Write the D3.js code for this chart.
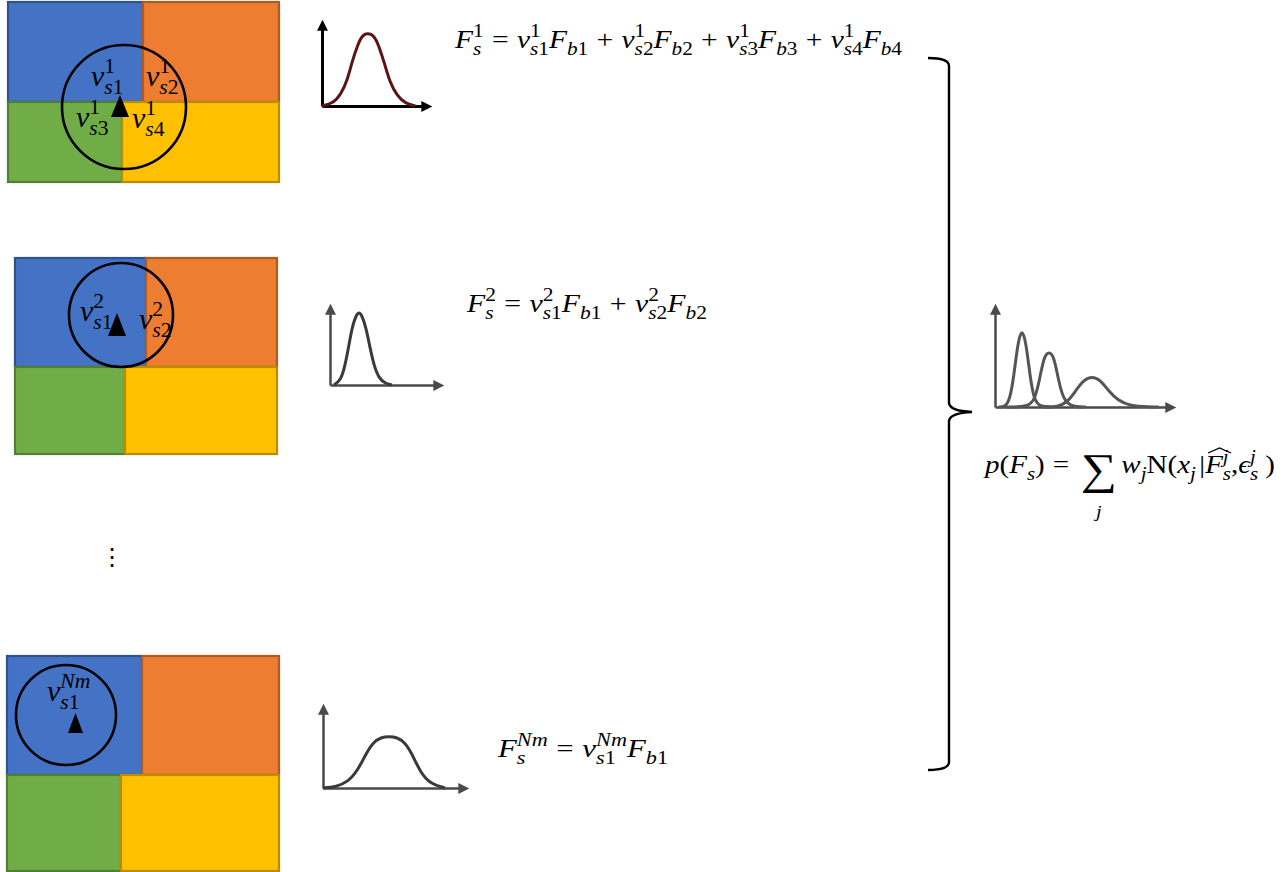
<!DOCTYPE html>
<html>
<head>
<meta charset="utf-8">
<script src="https://cdn.jsdelivr.net/npm/d3@7"></script>
<style>
  body { margin: 0; background: #fff; }
  svg text { font-family: 'Liberation Serif', 'DejaVu Serif', serif; fill: #000; }
</style>
</head>
<body>
<div id="chart"></div>
<script>
// ---- data ----
// bell curves: x in axis units (0-10 up to the arrow tip), y as share of axis height (0-1 up to the arrow tip)
const curve1X = [0, 1.0, 1.7, 2.3, 2.7, 3.2, 3.6, 4.1, 4.7, 5.1, 5.6, 6.1, 6.8, 7.5, 8.4];
const curve1Y = [0, .03, .13, .30, .50, .69, .80, .83, .80, .69, .50, .27, .11, .03, 0];
const curve2X = [0.35, 0.87, 1.22, 1.57, 1.91, 2.26, 2.52, 2.78, 3.13, 3.48, 3.83, 4.26, 4.78, 5.39];
const curve2Y = [0, .05, .18, .42, .69, .84, .88, .84, .69, .45, .23, .08, .02, 0];
const curve3X = [0, .82, 1.7, 2.38, 2.93, 3.4, 3.95, 4.49, 5.03, 5.58, 6.05, 6.6, 7.28, 8.3];
const curve3Y = [0, .01, .07, .21, .40, .53, .59, .60, .59, .53, .40, .19, .05, 0];
const mixAX = [0.2, 0.55, 0.82, 1.04, 1.26, 1.48, 1.7, 1.92, 2.14, 2.47, 3.2];
const mixAY = [0, 0, .07, .30, .62, .75, .62, .30, .07, 0, 0];
const mixBX = [0.6, 1.81, 2.2, 2.47, 2.69, 2.97, 3.24, 3.46, 3.74, 4.23, 5.0];
const mixBY = [0, 0, .07, .28, .48, .53, .48, .28, .07, 0, 0];
const mixCX = [2.6, 3.46, 4.01, 4.45, 4.89, 5.33, 5.77, 6.21, 6.76, 7.42, 8.52, 9.0];
const mixCY = [0, 0, .05, .16, .26, .29, .26, .16, .06, .01, 0, 0];

// equations (text pieces with sub / superscripts)
const eq1 = [
  {t: 'F', sub: 's', sup: '1'}, {op: '='},
  {t: 'v', sub: 's1', sup: '1'}, {t: 'F', sub: 'b1'}, {op: '+'},
  {t: 'v', sub: 's2', sup: '1'}, {t: 'F', sub: 'b2'}, {op: '+'},
  {t: 'v', sub: 's3', sup: '1'}, {t: 'F', sub: 'b3'}, {op: '+'},
  {t: 'v', sub: 's4', sup: '1'}, {t: 'F', sub: 'b4'}
];
const eq2 = [
  {t: 'F', sub: 's', sup: '2'}, {op: '='},
  {t: 'v', sub: 's1', sup: '2'}, {t: 'F', sub: 'b1'}, {op: '+'},
  {t: 'v', sub: 's2', sup: '2'}, {t: 'F', sub: 'b2'}
];
const eq3 = [
  {t: 'F', sub: 's', sup: 'Nm'}, {op: '='},
  {t: 'v', sub: 's1', sup: 'Nm'}, {t: 'F', sub: 'b1'}
];
const eq4 = [
  {t: 'p'}, {t: '(', up: true}, {t: 'F', sub: 's'}, {t: ')', up: true}, {op: '='},
  {big: '∑', under: 'j'}, {t: 'w', sub: 'j'}, {t: 'N(', up: true}, {t: 'x', sub: 'j'},
  {t: '|', up: true, gap: 0.12}, {t: 'F', sub: 's', sup: 'j', hat: true}, {t: ',', up: true},
  {t: 'ϵ', sub: 's', sup: 'j'}, {t: ')', up: true, gap: 0.25}
];

// cell labels in the grids
const labels1 = [
  {t: 'v', sub: 's1', sup: '1'}, {t: 'v', sub: 's2', sup: '1'},
  {t: 'v', sub: 's3', sup: '1'}, {t: 'v', sub: 's4', sup: '1'}
];
const labels2 = [{t: 'v', sub: 's1', sup: '2'}, {t: 'v', sub: 's2', sup: '2'}];
const labels3 = [{t: 'v', sub: 's1', sup: 'Nm'}];

// ---- layout ----
const W = 1282, H = 872;
const cellColors = [
  {fill: '#4472c4', stroke: '#2f528f'},
  {fill: '#ed7d31', stroke: '#ae5a21'},
  {fill: '#70ad47', stroke: '#507e32'},
  {fill: '#ffc000', stroke: '#bc8c00'}
];

const panels = [
  {x0: 8, xm: 143, x1: 279, y0: 2, ym: 102, y1: 182, xg: 122,
   circle: [124, 107, 62], tri: [120, 95, 117, 18],
   labels: labels1, labelPos: [[91, 86], [146, 86], [76, 127], [132, 128]]},
  {x0: 15, xm: 146, x1: 277, y0: 258, ym: 367, y1: 454, xg: 125,
   circle: [121, 315, 52], tri: [117, 313, 336, 18],
   labels: labels2, labelPos: [[80, 321], [139, 329]]},
  {x0: 7, xm: 142, x1: 279, y0: 656, ym: 775, y1: 871, xg: 121,
   circle: [66, 715, 50], tri: [75.5, 713, 733, 15],
   labels: labels3, labelPos: [[47, 701]]}
];

const svg = d3.select('#chart').append('svg')
  .attr('width', W).attr('height', H)
  .style('display', 'block');

// arrow markers
const defs = svg.append('defs');
[['arrow-black', '#000'], ['arrow-gray', '#4a4a4a']].forEach(([id, c]) => {
  defs.append('marker')
    .attr('id', id)
    .attr('viewBox', '0 0 10 10')
    .attr('refX', 2).attr('refY', 5)
    .attr('markerWidth', 12).attr('markerHeight', 11)
    .attr('markerUnits', 'userSpaceOnUse')
    .attr('orient', 'auto')
    .append('path')
    .attr('d', 'M0,0 L10,5 L0,10 Z')
    .attr('fill', c);
});

// text width helper (temporary element, removed once everything is laid out)
const probe = svg.append('text').attr('x', 0).attr('y', 0).style('visibility', 'hidden');
function measure(str, size, italic) {
  probe.style('font-size', size + 'px')
    .style('font-style', italic ? 'italic' : 'normal')
    .text(str);
  return probe.node().getComputedTextLength();
}

// builds one formula as a single text element with positioned tspans
function buildEq(g, parts, fs) {
  const runs = [];
  const hats = [];
  let x = 0;
  const push = (txt, px, py, size, italic) => {
    runs.push({txt, x: px, y: py, size, italic});
    return measure(txt, size, italic);
  };
  // letters italic, digits upright
  const scriptRuns = (txt, px, py, size) => {
    let w = 0;
    txt.split(/(\d+)/).filter(d => d).forEach(run => {
      w += push(run, px + w, py, size, !/\d/.test(run));
    });
    return w;
  };
  parts.forEach(p => {
    if (p.op) {
      x += fs * 0.28;
      x += push(p.op, x, 0, fs, false) + fs * 0.28;
      return;
    }
    if (p.big) {
      x += fs * 0.12;
      const bs = fs * 1.75;
      const w = measure(p.big, bs, false);
      push(p.big, x, fs * 0.42, bs, false);
      const uw = measure(p.under, fs * 0.7, true);
      push(p.under, x + (w - uw) / 2, fs * 1.75, fs * 0.7, true);
      x += w + fs * 0.15;
      return;
    }
    x += (p.gap || 0) * fs;
    const x0 = x;
    x += push(p.t, x, 0, fs, !p.up);
    let w = 0;
    if (p.sup) w = Math.max(w, scriptRuns(p.sup, x, -fs * 0.42, fs * 0.72));
    if (p.sub) w = Math.max(w, scriptRuns(p.sub, x, fs * 0.26, fs * 0.72));
    x += w;
    if (p.hat) hats.push([x0 + fs * 0.1, x]);
  });

  g.append('text')
    .selectAll('tspan')
    .data(runs)
    .join('tspan')
    .attr('x', d => d.x)
    .attr('y', d => d.y)
    .style('font-size', d => d.size + 'px')
    .style('font-style', d => d.italic ? 'italic' : 'normal')
    .text(d => d.txt);

  hats.forEach(([h0, h1]) => {
    g.append('path')
      .attr('d', `M${h0},${-fs * 0.8} L${(h0 + h1) / 2},${-fs * 1.0} L${h1},${-fs * 0.8}`)
      .attr('fill', 'none').attr('stroke', '#000').attr('stroke-width', fs * 0.05);
  });
  return x;
}

// draws a formula at a readable height, stretched to the wanted width
function drawEq(parts, x, y, width, fs) {
  const g = svg.append('g');
  const natural = buildEq(g, parts, fs);
  g.attr('transform', `translate(${x},${y}) scale(${width / natural},1)`);
  return g;
}

// ---- the three grids ----
panels.forEach(pn => {
  const g = svg.append('g');
  const cells = [
    [pn.x0, pn.y0, pn.xm, pn.ym],
    [pn.xm, pn.y0, pn.x1, pn.ym],
    [pn.x0, pn.ym, pn.xg, pn.y1],
    [pn.xg, pn.ym, pn.x1, pn.y1]
  ];
  g.selectAll('rect').data(cells).join('rect')
    .attr('x', d => d[0]).attr('y', d => d[1])
    .attr('width', d => d[2] - d[0]).attr('height', d => d[3] - d[1])
    .attr('fill', (d, i) => cellColors[i].fill)
    .attr('stroke', (d, i) => cellColors[i].stroke)
    .attr('stroke-width', 2.2);

  const [cx, cy, r] = pn.circle;
  g.append('circle').attr('cx', cx).attr('cy', cy).attr('r', r)
    .attr('fill', 'none').attr('stroke', '#000').attr('stroke-width', 2.6);

  const [tx, tTop, tBot, tw] = pn.tri;
  g.append('path')
    .attr('d', `M${tx},${tTop} L${tx + tw / 2},${tBot} L${tx - tw / 2},${tBot} Z`)
    .attr('fill', '#000');

  pn.labels.forEach((lab, i) => {
    const lg = g.append('g')
      .attr('transform', `translate(${pn.labelPos[i][0]},${pn.labelPos[i][1]})`);
    buildEq(lg, [lab], 30);
  });
});

// vertical ellipsis between panels
svg.append('text')
  .attr('x', 112).attr('y', 565)
  .attr('text-anchor', 'middle')
  .style('font-size', '24px')
  .style('font-family', 'DejaVu Sans')
  .text('⋮');

// ---- small density plots ----
function densityPlot(box, series, color, marker, strokeW, curveColor) {
  // scales run to the arrow tips; the axis lines stop where the arrow heads begin
  const x = d3.scaleLinear().domain([0, 10]).range([box.x0, box.xTip]);
  const y = d3.scaleLinear().domain([0, 1]).range([box.yb, box.yTip]);
  const xAxisScale = x.copy().range([box.x0, box.xTip - 10]);
  const yAxisScale = y.copy().range([box.yb, box.yTip + 10]);
  const g = svg.append('g');

  g.append('g')
    .attr('transform', `translate(0,${box.yb})`)
    .call(d3.axisBottom(xAxisScale).tickValues([]).tickSizeOuter(0))
    .call(a => a.select('.domain')
      .attr('stroke', color).attr('stroke-width', strokeW)
      .attr('marker-end', `url(#${marker})`));

  g.append('g')
    .attr('transform', `translate(${box.x0},0)`)
    .call(d3.axisLeft(yAxisScale).tickValues([]).tickSizeOuter(0))
    .call(a => a.select('.domain')
      .attr('stroke', color).attr('stroke-width', strokeW)
      .attr('marker-end', `url(#${marker})`));

  const line = d3.line()
    .x(d => x(d[0])).y(d => y(d[1]))
    .curve(d3.curveBasis);

  series.forEach(([xs, ys]) => {
    g.append('path')
      .datum(xs.map((v, i) => [v, ys[i]]))
      .attr('fill', 'none')
      .attr('stroke', curveColor)
      .attr('stroke-width', 3)
      .attr('stroke-linejoin', 'round')
      .attr('d', line);
  });
}

densityPlot({x0: 322, xTip: 433, yb: 106, yTip: 18}, [[curve1X, curve1Y]],
  '#000', 'arrow-black', 3, '#5a1414');
densityPlot({x0: 330, xTip: 445, yb: 385, yTip: 302}, [[curve2X, curve2Y]],
  '#4a4a4a', 'arrow-gray', 2.5, '#3a3a3a');
densityPlot({x0: 323, xTip: 470, yb: 788, yTip: 702}, [[curve3X, curve3Y]],
  '#4a4a4a', 'arrow-gray', 2.5, '#3a3a3a');
densityPlot({x0: 995, xTip: 1177, yb: 407, yTip: 302},
  [[mixAX, mixAY], [mixBX, mixBY], [mixCX, mixCY]],
  '#4a4a4a', 'arrow-gray', 2.5, '#555');

// ---- formulas ----
drawEq(eq1, 455, 48, 447, 26);
drawEq(eq2, 467, 312, 240, 26);
drawEq(eq3, 498, 757, 170, 26);
drawEq(eq4, 985, 473, 290, 25);

probe.remove();

// ---- right brace ----
const brace = d3.path();
brace.moveTo(928, 58);
brace.quadraticCurveTo(949, 58, 949, 66);
brace.lineTo(949, 403);
brace.quadraticCurveTo(950, 411, 972, 412);
brace.quadraticCurveTo(950, 413, 949, 421);
brace.lineTo(949, 762);
brace.quadraticCurveTo(949, 770, 928, 770);
svg.append('path')
  .attr('d', brace.toString())
  .attr('fill', 'none')
  .attr('stroke', '#000')
  .attr('stroke-width', 2.4);
</script>
</body>
</html>
